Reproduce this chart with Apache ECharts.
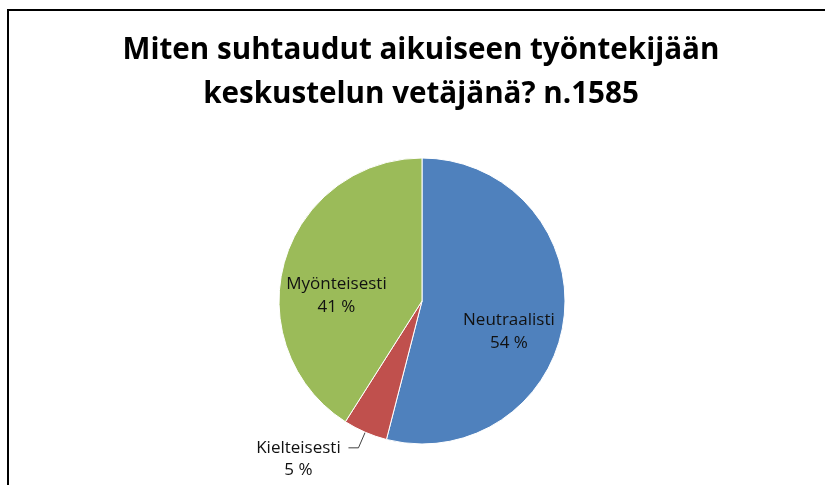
<!DOCTYPE html>
<html>
<head>
<meta charset="utf-8">
<script src="https://cdn.jsdelivr.net/npm/echarts@6/dist/echarts.min.js"></script>
<style>
html,body{margin:0;padding:0;background:#fff;overflow:hidden;}
#frame{position:absolute;left:7px;top:9px;width:1000px;height:1000px;border:2px solid #000;box-sizing:border-box;}
#chart{position:absolute;left:0;top:0;width:825px;height:485px;}
</style>
</head>
<body>
<div id="frame"></div>
<div id="chart"></div>
<script>
const titleLines = ['Miten suhtaudut aikuiseen työntekijään', 'keskustelun vetäjänä? n.1585'];
const categories = ['Neutraalisti', 'Kielteisesti', 'Myönteisesti'];
const values = [54, 5, 41];
const colors = ['#4F81BD', '#C0504D', '#9BBB59'];
const labelShift = [[13, 21], null, [-14, 15]];
const FONT = 'Open Sans';

const chart = echarts.init(document.getElementById('chart'), null, {renderer: 'canvas'});
const data = categories.map((name, i) => {
  const item = {name: name, value: values[i], itemStyle: {color: colors[i]}};
  if (i === 1) {
    item.label = {
      position: 'outside',
      formatter: '{a|{b}}\n{a|{c} %}',
      padding: [22, 0, 0, 0],
      rich: {a: {width: 90, align: 'center', fontSize: 17, lineHeight: 22, color: '#111', fontFamily: FONT}}
    };
    item.labelLine = {show: true, length: 17, length2: 10, lineStyle: {color: '#404040', width: 1}};
  } else {
    item.label = {position: 'inside'};
    item.labelLine = {show: false};
  }
  return item;
});

chart.setOption({
  animation: false,
  backgroundColor: 'transparent',
  title: {
    text: titleLines.join('\n'),
    left: 421,
    textAlign: 'center',
    top: 29,
    padding: 0,
    textStyle: {fontFamily: FONT, fontWeight: 'bold', fontSize: 29.6, lineHeight: 44, color: '#000'}
  },
  series: [{
    type: 'pie',
    center: [422, 301],
    radius: [0, 143],
    startAngle: 90,
    clockwise: true,
    avoidLabelOverlap: false,
    itemStyle: {borderColor: '#fff', borderWidth: 1},
    label: {
      show: true,
      formatter: '{b}\n{c} %',
      fontFamily: FONT,
      fontSize: 17,
      lineHeight: 23,
      color: '#111',
      align: 'center'
    },
    labelLayout: function (p) {
      const s = labelShift[p.dataIndex];
      return s ? {dx: s[0], dy: s[1]} : {};
    },
    data: data
  }]
});
</script>
</body>
</html>
